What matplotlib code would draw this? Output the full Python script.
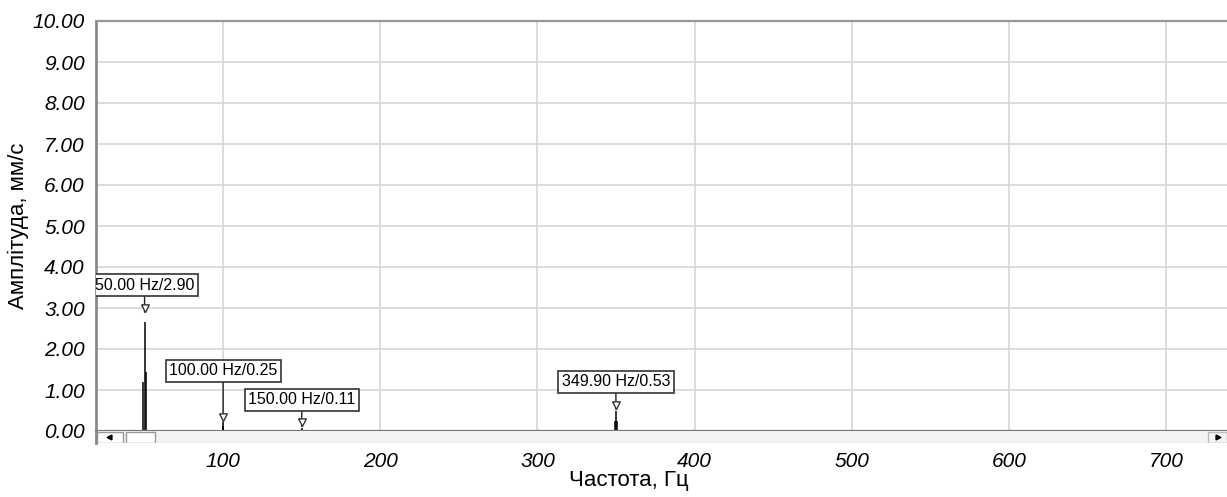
import matplotlib.pyplot as plt
import matplotlib.patches as mpatches

plt.rcParams['font.family'] = ['Liberation Sans', 'DejaVu Sans']

# spectrum bins (Hz, mm/s)
freqs = [49.3, 50.0, 50.7, 99.8, 100.0, 150.0, 349.5, 349.9, 350.3]
amps = [1.2, 2.65, 1.45, 0.12, 0.22, 0.08, 0.25, 0.5, 0.25]

# labelled peaks
peak_freqs = [50.0, 100.0, 150.0, 349.9]
peak_amps = [2.90, 0.25, 0.11, 0.53]
label_offsets = [0.47, 1.04, 0.47, 0.49]

x_ticks = [100, 200, 300, 400, 500, 600, 700]
y_ticks = [0, 1, 2, 3, 4, 5, 6, 7, 8, 9, 10]

W, H = 1227, 497
fig = plt.figure(figsize=(W / 100, H / 100), dpi=100)

# main axes: left 96px, top 21px, bottom 431px, runs past right edge
ax = fig.add_axes([96 / W, (H - 431) / H, (W - 96) / W + 0.001, 410 / H])
ax.set_xlim(19.1, 19.1 + (W - 96) / 1.57)
ax.set_ylim(0, 10)

ax.grid(True, color='#d9d9d9', linewidth=1.3)
ax.set_axisbelow(True)

ax.vlines(freqs, 0, amps, colors='black', linewidth=1.1, zorder=2)

tip_marker = [(-0.55, 1.1), (0.55, 1.1), (0, 0), (-0.55, 1.1)]
ax.plot(peak_freqs, peak_amps, linestyle='none', marker=tip_marker,
        markersize=11, markerfacecolor='white', markeredgecolor='#333333',
        markeredgewidth=1.0, zorder=5)

for f, a, off in zip(peak_freqs, peak_amps, label_offsets):
    ax.annotate(f'{f:.2f} Hz/{a:.2f}', xy=(f, a), xytext=(f, a + off),
                textcoords='data', ha='center', va='bottom', fontsize=11.5,
                clip_on=True, zorder=4,
                bbox=dict(boxstyle='square,pad=0.22', facecolor='white',
                          edgecolor='#333333', linewidth=1.2),
                arrowprops=dict(arrowstyle='-', color='#222222', lw=1.0,
                                shrinkA=0, shrinkB=0))

ax.set_xticks(x_ticks)
ax.set_xticklabels([str(t) for t in x_ticks], fontstyle='italic', fontsize=15)
ax.set_yticks(y_ticks)
ax.set_yticklabels([f'{t:.2f}' for t in y_ticks], fontstyle='italic', fontsize=15)
ax.tick_params(axis='x', length=0, pad=15)
ax.tick_params(axis='y', length=0, pad=8)

ax.spines['right'].set_visible(False)
ax.spines['left'].set_color('#888888')
ax.spines['left'].set_linewidth(2.0)
ax.spines['top'].set_color('#999999')
ax.spines['top'].set_linewidth(1.6)
ax.spines['bottom'].set_color('#777777')
ax.spines['bottom'].set_linewidth(1.6)

ax.set_xlabel('Частота, Гц', fontsize=16)
ax.xaxis.set_label_coords((628 - 96) / (W - 96), -0.095)
ax.set_ylabel('Амплітуда, мм/с', fontsize=16)
ax.yaxis.set_label_coords(-(96 - 29) / (W - 96), 0.5)

# scroll bar under the plot
sb = fig.add_axes([96 / W, (H - 443) / H, (W - 96) / W, 12 / H])
sb.set_xlim(96, W)
sb.set_ylim(0, 12)
sb.set_facecolor('#f3f3f3')
for s in sb.spines.values():
    s.set_visible(False)
sb.spines['left'].set_visible(True)
sb.spines['left'].set_color('#888888')
sb.spines['left'].set_linewidth(2.0)
sb.set_xticks([])
sb.set_yticks([])
sb.add_patch(mpatches.Rectangle((97, 0.5), 26, 11, facecolor='white',
                                edgecolor='#999999', linewidth=1.0))
sb.add_patch(mpatches.Rectangle((126, 0.5), 29, 11, facecolor='white',
                                edgecolor='#999999', linewidth=1.0))
sb.add_patch(mpatches.Rectangle((1208, 0.5), 19, 11, facecolor='#f3f3f3',
                                edgecolor='#bbbbbb', linewidth=1.0))
sb.plot([109], [6], marker='<', color='black', markersize=3.5)
sb.plot([1218], [6], marker='>', color='black', markersize=3.5)
sb.axhline(0.3, color='#dddddd', linewidth=1.0)

fig.savefig('out.png', dpi=100)
